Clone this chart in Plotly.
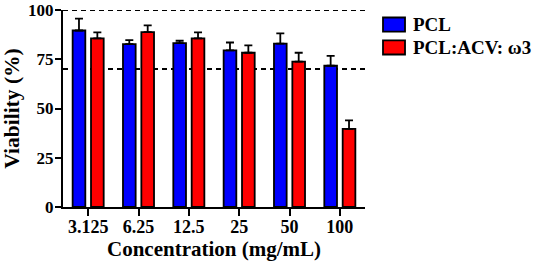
import plotly.graph_objects as go

categories = ["3.125", "6.25", "12.5", "25", "50", "100"]
pcl = [89.6, 82.7, 83.2, 79.5, 82.9, 71.7]
pcl_err = [6.0, 2.0, 1.2, 4.0, 5.2, 5.0]
pcl_acv = [85.6, 88.8, 85.6, 78.3, 73.8, 39.7]
pcl_acv_err = [3.0, 3.4, 3.0, 3.7, 4.5, 4.3]
series_names = ["PCL", "PCL:ACV: \u03c93"]
series_colors = ["#0000FF", "#FF0000"]
ref_lines = [100, 70]
y_ticks = [0, 25, 50, 75, 100]

FONT = "Liberation Serif"

fig = go.Figure()
for name, vals, errs, color in zip(series_names, [pcl, pcl_acv],
                                   [pcl_err, pcl_acv_err], series_colors):
    fig.add_trace(go.Bar(
        x=categories, y=vals, name=name, showlegend=False,
        marker=dict(color=color, line=dict(color="black", width=1.8)),
        error_y=dict(type="data", array=errs, arrayminus=[0] * len(errs),
                     symmetric=False, color="black", thickness=1.8, width=4),
    ))

for v in ref_lines:
    fig.add_shape(type="line", xref="paper", yref="y", x0=0, x1=1, y0=v, y1=v,
                  line=dict(color="black", width=2, dash="5px,4px"), layer="below")

# manual legend (boxes + labels) to match the reference's large swatches
legend_y = [0.926, 0.810]
for name, color, yc in zip(series_names, series_colors, legend_y):
    fig.add_shape(type="rect", xref="paper", yref="paper",
                  x0=1.0596, x1=1.1325, y0=yc - 0.036, y1=yc + 0.036,
                  fillcolor=color, line=dict(color="black", width=1.8))
    fig.add_annotation(xref="paper", yref="paper", x=1.152, y=yc,
                       xanchor="left", yanchor="middle", showarrow=False,
                       text="<b>" + name + "</b>",
                       font=dict(family=FONT, size=19, color="black"))

fig.update_layout(
    width=536, height=264,
    margin=dict(l=63, r=171, t=10, b=57, autoexpand=False),
    paper_bgcolor="white", plot_bgcolor="white",
    barmode="group", bargap=0.27, bargroupgap=0.31,
    font=dict(family=FONT, color="black", size=17),
    showlegend=False,
    xaxis=dict(
        automargin=False,
        tickvals=categories, ticktext=["<b>" + c + "</b>" for c in categories],
        showline=True, linecolor="black", linewidth=2,
        ticks="outside", ticklen=7, tickwidth=2, tickcolor="black",
        tickfont=dict(family=FONT, size=18), ticklabelstandoff=-5,
        title=dict(text="<b>Concentration (mg/mL)</b>", standoff=6,
                   font=dict(family=FONT, size=21)),
        range=[-0.5, 5.5], showgrid=False, zeroline=False,
    ),
    yaxis=dict(
        automargin=False,
        range=[0, 100], tickvals=y_ticks,
        ticktext=["<b>" + str(t) + "</b>" for t in y_ticks],
        showline=True, linecolor="black", linewidth=2,
        ticks="outside", ticklen=6, tickwidth=2, tickcolor="black",
        tickfont=dict(family=FONT, size=17), ticklabelstandoff=-2,
        title=dict(text="<b>Viability (%)</b>", standoff=6,
                   font=dict(family=FONT, size=21.5)),
        showgrid=False, zeroline=False,
    ),
)

fig.write_html("out.html", config={"displayModeBar": False},
               post_script="document.body.style.margin='0';")
